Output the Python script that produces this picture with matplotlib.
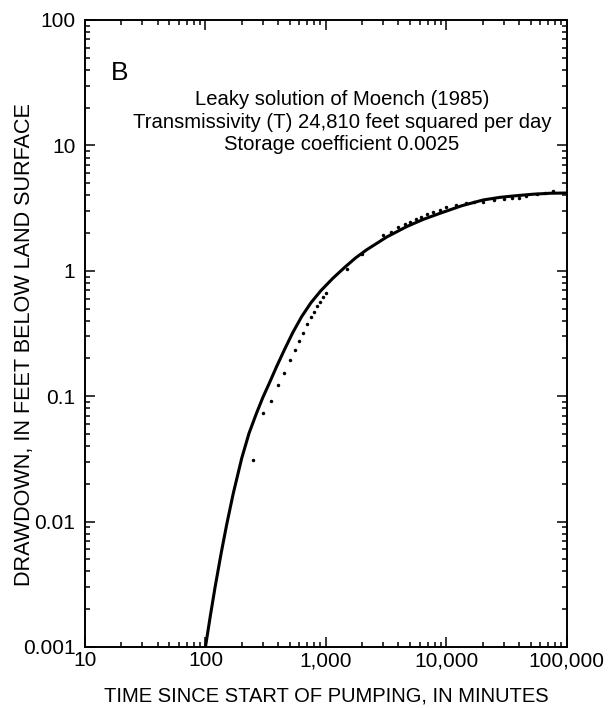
import numpy as np
import matplotlib.pyplot as plt
from matplotlib.ticker import LogLocator, FixedLocator, FixedFormatter, NullFormatter

plt.rcParams['font.family'] = ['Liberation Sans', 'DejaVu Sans']

# observed drawdown (minutes, feet)
t_obs = [250, 300, 350, 400, 450, 500, 550, 600, 650, 700, 750, 800, 850, 900,
         950, 1000, 1500, 2000, 3000, 3500, 4000, 4500, 5000, 5600, 6200, 6900,
         7800, 8800, 10000, 12000, 14500, 17000, 20000, 25000, 30000, 35000,
         40000, 46000, 56000, 66000, 77000]
s_obs = [0.031, 0.073, 0.092, 0.122, 0.152, 0.194, 0.235, 0.277, 0.321, 0.377,
         0.428, 0.472, 0.524, 0.567, 0.622, 0.661, 1.04, 1.36, 1.93, 2.05, 2.22,
         2.36, 2.46, 2.58, 2.70, 2.82, 2.92, 3.05, 3.21, 3.35, 3.45, 3.52, 3.56,
         3.67, 3.72, 3.79, 3.83, 3.95, 4.07, 4.15, 4.33]

# leaky solution curve
t_fit = [100, 110, 120, 135, 150, 170, 200, 230, 265, 300, 339, 390, 451, 530,
         628, 750, 903, 1140, 1439, 1770, 2178, 3200, 4680, 6430, 8830, 13400,
         20200, 27800, 38200, 52600, 72300, 100000]
s_fit = [0.001, 0.00179, 0.00297, 0.00559, 0.00945, 0.0167, 0.0320, 0.0506,
         0.0729, 0.098, 0.127, 0.1726, 0.233, 0.3206, 0.430, 0.555, 0.69, 0.87,
         1.07, 1.27, 1.47, 1.86, 2.25, 2.57, 2.87, 3.30, 3.67, 3.85, 3.97, 4.08,
         4.15, 4.17]

x_ticks = [10, 100, 1000, 10000, 100000]
x_labels = ['10', '100', '1,000', '10,000', '100,000']
y_ticks = [0.001, 0.01, 0.1, 1, 10, 100]
y_labels = ['0.001', '0.01', '0.1', '1', '10', '100']

fig = plt.figure(figsize=(6.1, 7.08), dpi=100)
ax = fig.add_axes([0.1393, 0.0862, 0.790, 0.8856])

ax.plot(t_fit, s_fit, color='black', lw=2.2, solid_joinstyle='round')
ax.plot(t_obs, s_obs, 'o', color='black', ms=2.5, mec='none')

ax.set_xscale('log')
ax.set_yscale('log')
ax.set_xlim(10, 100000)
ax.set_ylim(0.001, 100)

ax.xaxis.set_major_locator(FixedLocator(x_ticks))
ax.xaxis.set_major_formatter(FixedFormatter(x_labels))
ax.yaxis.set_major_locator(FixedLocator(y_ticks))
ax.yaxis.set_major_formatter(FixedFormatter(y_labels))
ax.xaxis.set_minor_locator(LogLocator(base=10, subs=np.arange(2, 10), numticks=20))
ax.yaxis.set_minor_locator(LogLocator(base=10, subs=np.arange(2, 10), numticks=20))
ax.xaxis.set_minor_formatter(NullFormatter())
ax.yaxis.set_minor_formatter(NullFormatter())

ax.tick_params(which='both', direction='in', top=True, right=True, width=1.1,
               labelsize=15)
ax.tick_params(axis='y', pad=7)
ax.tick_params(axis='x', pad=3)
ax.tick_params(which='major', length=7.5)
ax.tick_params(which='minor', length=3.8)
for sp in ax.spines.values():
    sp.set_linewidth(1.4)

ax.set_xlabel('TIME SINCE START OF PUMPING, IN MINUTES', fontsize=14.5, labelpad=12)
ax.set_ylabel('DRAWDOWN, IN FEET BELOW LAND SURFACE', fontsize=15.6, va='center')
ax.yaxis.set_label_coords(-0.125, 0.482)

ax.text(0.053, 0.915, 'B', transform=ax.transAxes, fontsize=19, ha='left', va='center')
ax.text(0.533, 0.837, 'Leaky solution of Moench (1985)\n'
        'Transmissivity (T) 24,810 feet squared per day\n'
        'Storage coefficient 0.0025',
        transform=ax.transAxes, fontsize=14.6, ha='center', va='center',
        linespacing=1.25)

fig.savefig('out.png', dpi=100)
